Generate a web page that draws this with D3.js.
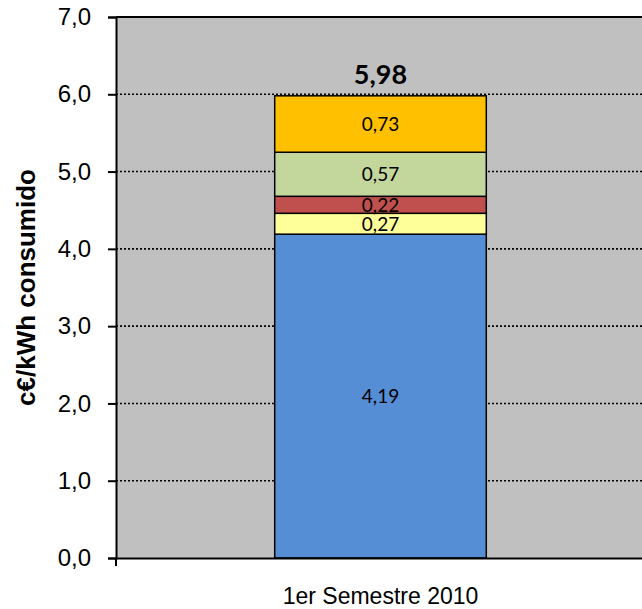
<!DOCTYPE html>
<html>
<head>
<meta charset="utf-8">
<script src="https://cdn.jsdelivr.net/npm/d3@7"></script>
<style>
  html, body { margin: 0; padding: 0; background: #ffffff; }
  svg { display: block; }
</style>
</head>
<body>
<script>
// Cost components of the electricity price (c€/kWh), stacked bottom to top
const categories = ["1er Semestre 2010"];
const componentValues = [4.19, 0.27, 0.22, 0.57, 0.73];
const componentColors = ["#558ED5", "#FFFF99", "#C0504D", "#C3D69B", "#FFC000"];
const componentLabels = ["4,19", "0,27", "0,22", "0,57", "0,73"];
const totalValue = 5.98;
const totalLabel = "5,98";
const yTicks = [0, 1, 2, 3, 4, 5, 6, 7];
const yTickLabels = ["0,0", "1,0", "2,0", "3,0", "4,0", "5,0", "6,0", "7,0"];
const yTitle = "c€/kWh consumido";

const W = 642, H = 609;
const plot = { left: 116, right: 645, top: 17, bottom: 558 };

const svg = d3.select("body").append("svg")
  .attr("width", W).attr("height", H);

const y = d3.scaleLinear().domain([0, 7]).range([plot.bottom, plot.top]);
const x = d3.scaleBand().domain(categories)
  .range([plot.left, plot.right])
  .paddingInner(0).paddingOuter(0.75);

// plot background
svg.append("rect")
  .attr("x", plot.left).attr("y", plot.top)
  .attr("width", plot.right - plot.left).attr("height", plot.bottom - plot.top)
  .attr("fill", "#C0C0C0");

// dotted gridlines
svg.append("g").selectAll("line")
  .data(yTicks.filter(t => t > 0 && t < 7))
  .join("line")
  .attr("x1", plot.left).attr("x2", plot.right)
  .attr("y1", d => y(d)).attr("y2", d => y(d))
  .attr("stroke", "#000").attr("stroke-width", 1.6)
  .attr("stroke-dasharray", "2,2");

// top frame line
svg.append("line")
  .attr("x1", plot.left).attr("x2", plot.right)
  .attr("y1", y(7)).attr("y2", y(7))
  .attr("stroke", "#000").attr("stroke-width", 2);

// stacked segments
const stacks = [];
let acc = 0;
componentValues.forEach((v, i) => {
  stacks.push({ y0: acc, y1: acc + v, color: componentColors[i], label: componentLabels[i] });
  acc += v;
});

const cat = categories[0];
const barG = svg.append("g");
barG.selectAll("rect")
  .data(stacks)
  .join("rect")
  .attr("x", x(cat))
  .attr("width", x.bandwidth())
  .attr("y", d => y(d.y1))
  .attr("height", d => y(d.y0) - y(d.y1))
  .attr("fill", d => d.color)
  .attr("stroke", "#000")
  .attr("stroke-width", 1.5);

barG.selectAll("text")
  .data(stacks)
  .join("text")
  .attr("x", x(cat) + x.bandwidth() / 2)
  .attr("y", d => y((d.y0 + d.y1) / 2))
  .attr("dy", "0.36em")
  .attr("text-anchor", "middle")
  .attr("font-family", "Lato, 'Open Sans', sans-serif")
  .attr("font-size", 19)
  .attr("fill", "#000")
  .text(d => d.label);

// total label above the bar
svg.append("text")
  .attr("x", x(cat) + x.bandwidth() / 2)
  .attr("y", y(totalValue) - 12)
  .attr("text-anchor", "middle")
  .attr("font-family", "Lato, 'Open Sans', sans-serif")
  .attr("font-weight", "bold")
  .attr("font-size", 27)
  .attr("fill", "#000")
  .text(totalLabel);

// y axis
const yAxis = d3.axisLeft(y)
  .tickValues(yTicks)
  .tickFormat((d, i) => yTickLabels[i])
  .tickSize(8)
  .tickPadding(17);
const yg = svg.append("g")
  .attr("transform", `translate(${plot.left},0)`)
  .call(yAxis);
yg.select(".domain").attr("stroke", "#000").attr("stroke-width", 2);
yg.selectAll(".tick line").attr("stroke", "#000").attr("stroke-width", 2);
yg.selectAll(".tick text")
  .attr("font-family", "'Liberation Sans', Arial, sans-serif")
  .attr("font-size", 24)
  .attr("fill", "#000");

// x axis
const xAxis = d3.axisBottom(x).tickSize(0).tickPadding(30);
const xg = svg.append("g")
  .attr("transform", `translate(0,${plot.bottom})`)
  .call(xAxis);
xg.select(".domain").attr("stroke", "#000").attr("stroke-width", 2);
xg.selectAll(".tick text")
  .attr("font-family", "'Liberation Sans', Arial, sans-serif")
  .attr("font-size", 23)
  .attr("fill", "#000");
// category boundary tick at the left edge
svg.append("line")
  .attr("x1", plot.left).attr("x2", plot.left)
  .attr("y1", plot.bottom).attr("y2", plot.bottom + 8)
  .attr("stroke", "#000").attr("stroke-width", 2);

// y axis title
svg.append("text")
  .attr("transform", `translate(35,${(plot.top + plot.bottom) / 2}) rotate(-90)`)
  .attr("text-anchor", "middle")
  .attr("font-family", "'Liberation Sans', Arial, sans-serif")
  .attr("font-weight", "bold")
  .attr("font-size", 26)
  .attr("fill", "#000")
  .text(yTitle);
</script>
</body>
</html>
